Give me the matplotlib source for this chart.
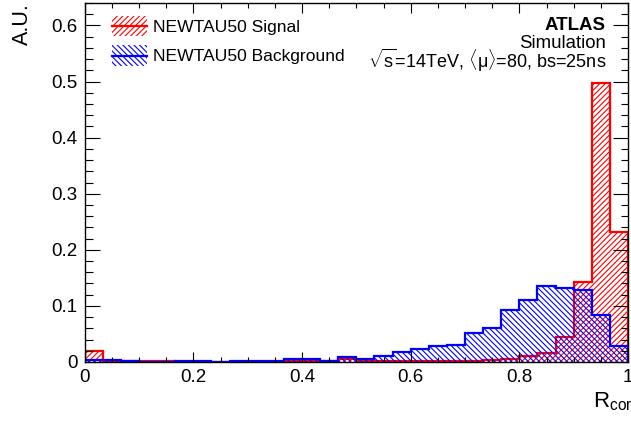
import numpy as np
import matplotlib
matplotlib.use("Agg")
import matplotlib.pyplot as plt
from matplotlib.patches import Patch, Rectangle
from matplotlib.lines import Line2D
from matplotlib.legend_handler import HandlerBase
from matplotlib.ticker import MultipleLocator, FuncFormatter

plt.rcParams['font.family'] = ['Liberation Sans', 'DejaVu Sans']
plt.rcParams['mathtext.fontset'] = 'custom'
plt.rcParams['mathtext.rm'] = 'Liberation Sans'
plt.rcParams['mathtext.it'] = 'Liberation Sans:italic'
plt.rcParams['hatch.linewidth'] = 0.8

# R_core binning: 30 equal bins on [0, 1]
bin_edges = np.linspace(0.0, 1.0, 31)

signal = [0.020, 0.002, 0.001, 0.001, 0.001, 0.0005, 0.0005, 0.0005, 0.0005, 0.0005,
          0.0005, 0.001, 0.001, 0.001, 0.005, 0.001, 0.001, 0.001, 0.001, 0.001,
          0.002, 0.002, 0.003, 0.006, 0.010, 0.016, 0.045, 0.142, 0.498, 0.232]

background = [0.003, 0.003, 0.001, 0.0005, 0.0005, 0.001, 0.001, 0.0005, 0.001, 0.001,
              0.001, 0.006, 0.006, 0.002, 0.009, 0.006, 0.011, 0.018, 0.024, 0.028,
              0.031, 0.052, 0.060, 0.093, 0.110, 0.135, 0.132, 0.128, 0.083, 0.028]

labels = ["NEWTAU50 Signal", "NEWTAU50 Background"]
colors = ["#ff0000", "#0000ff"]
hatches = ["//////", "\\\\\\\\\\\\"]
LW = 1.6


class HatchLineHandler(HandlerBase):
    """Legend entry: hatched box without border plus a line through its middle."""

    def legend_artist(self, legend, orig_handle, fontsize, handlebox):
        x0, y0 = -handlebox.xdescent, -handlebox.ydescent
        w, h = handlebox.width, handlebox.height
        col = orig_handle.get_edgecolor()
        rect = Rectangle((x0, y0), w, h, facecolor='none', edgecolor=col,
                         hatch=orig_handle.get_hatch(), linewidth=0,
                         transform=handlebox.get_transform())
        line = Line2D([x0, x0 + w], [y0 + h / 2, y0 + h / 2], color=col,
                      linewidth=LW, transform=handlebox.get_transform())
        handlebox.add_artist(rect)
        handlebox.add_artist(line)
        return rect


fig = plt.figure(figsize=(6.31, 4.21), dpi=100)
ax = fig.add_axes([84.7 / 631, 1 - 362 / 421, 543.3 / 631, 359 / 421])

widths = np.diff(bin_edges)
for vals, col, hat in zip([signal, background], colors, hatches):
    ax.bar(bin_edges[:-1], vals, width=widths, align='edge', facecolor='none',
           edgecolor=col, hatch=hat, linewidth=0)
    ax.stairs(vals, bin_edges, baseline=0, color=col, linewidth=LW)

ax.set_xlim(0, 1)
ax.set_ylim(0, 0.64)

ax.xaxis.set_major_locator(MultipleLocator(0.2))
ax.xaxis.set_minor_locator(MultipleLocator(0.05))
ax.yaxis.set_major_locator(MultipleLocator(0.1))
ax.yaxis.set_minor_locator(MultipleLocator(0.02))
fmt = FuncFormatter(lambda v, p: "%g" % round(v, 6))
ax.xaxis.set_major_formatter(fmt)
ax.yaxis.set_major_formatter(fmt)

ax.tick_params(which='both', direction='in', top=True, right=True, width=0.8,
               labelsize=13.5, pad=5)
ax.xaxis.set_tick_params(which='major', length=7.2)
ax.xaxis.set_tick_params(which='minor', length=3.6)
ax.yaxis.set_tick_params(which='major', length=10.8)
ax.yaxis.set_tick_params(which='minor', length=5.4)
for s in ax.spines.values():
    s.set_linewidth(1.0)

ax.set_ylabel("A.U.", loc='top', fontsize=15.5)
ax.yaxis.set_label_coords(-0.095, 1.0)
ax.set_xlabel(r"R$_{\rm core}$", fontsize=16, ha='left')
ax.xaxis.set_label_coords(0.935, -0.08)

# Experiment labels
ax.text(0.9595, 0.925, "ATLAS", transform=ax.transAxes, ha='right', va='baseline',
        fontsize=13.4, fontweight='bold')
ax.text(0.9595, 0.874, "Simulation", transform=ax.transAxes, ha='right', va='baseline',
        fontsize=13.4)
ax.text(0.9595, 0.818, r"$\sqrt{\mathrm{s}}$=14TeV, $\langle$μ$\rangle$=80, bs=25ns",
        transform=ax.transAxes, ha='right', va='baseline', fontsize=13.0)

handles = [Patch(facecolor='none', edgecolor=col, hatch=hat)
           for col, hat in zip(colors, hatches)]
ax.legend(handles, labels, handler_map={Patch: HatchLineHandler()},
          loc='upper left', bbox_to_anchor=(0.0502, 0.9645), borderaxespad=0,
          borderpad=0, frameon=False, fontsize=12.6, handlelength=2.0,
          handleheight=1.4, handletextpad=0.35, labelspacing=0.54)

fig.savefig("out.png", dpi=100)
